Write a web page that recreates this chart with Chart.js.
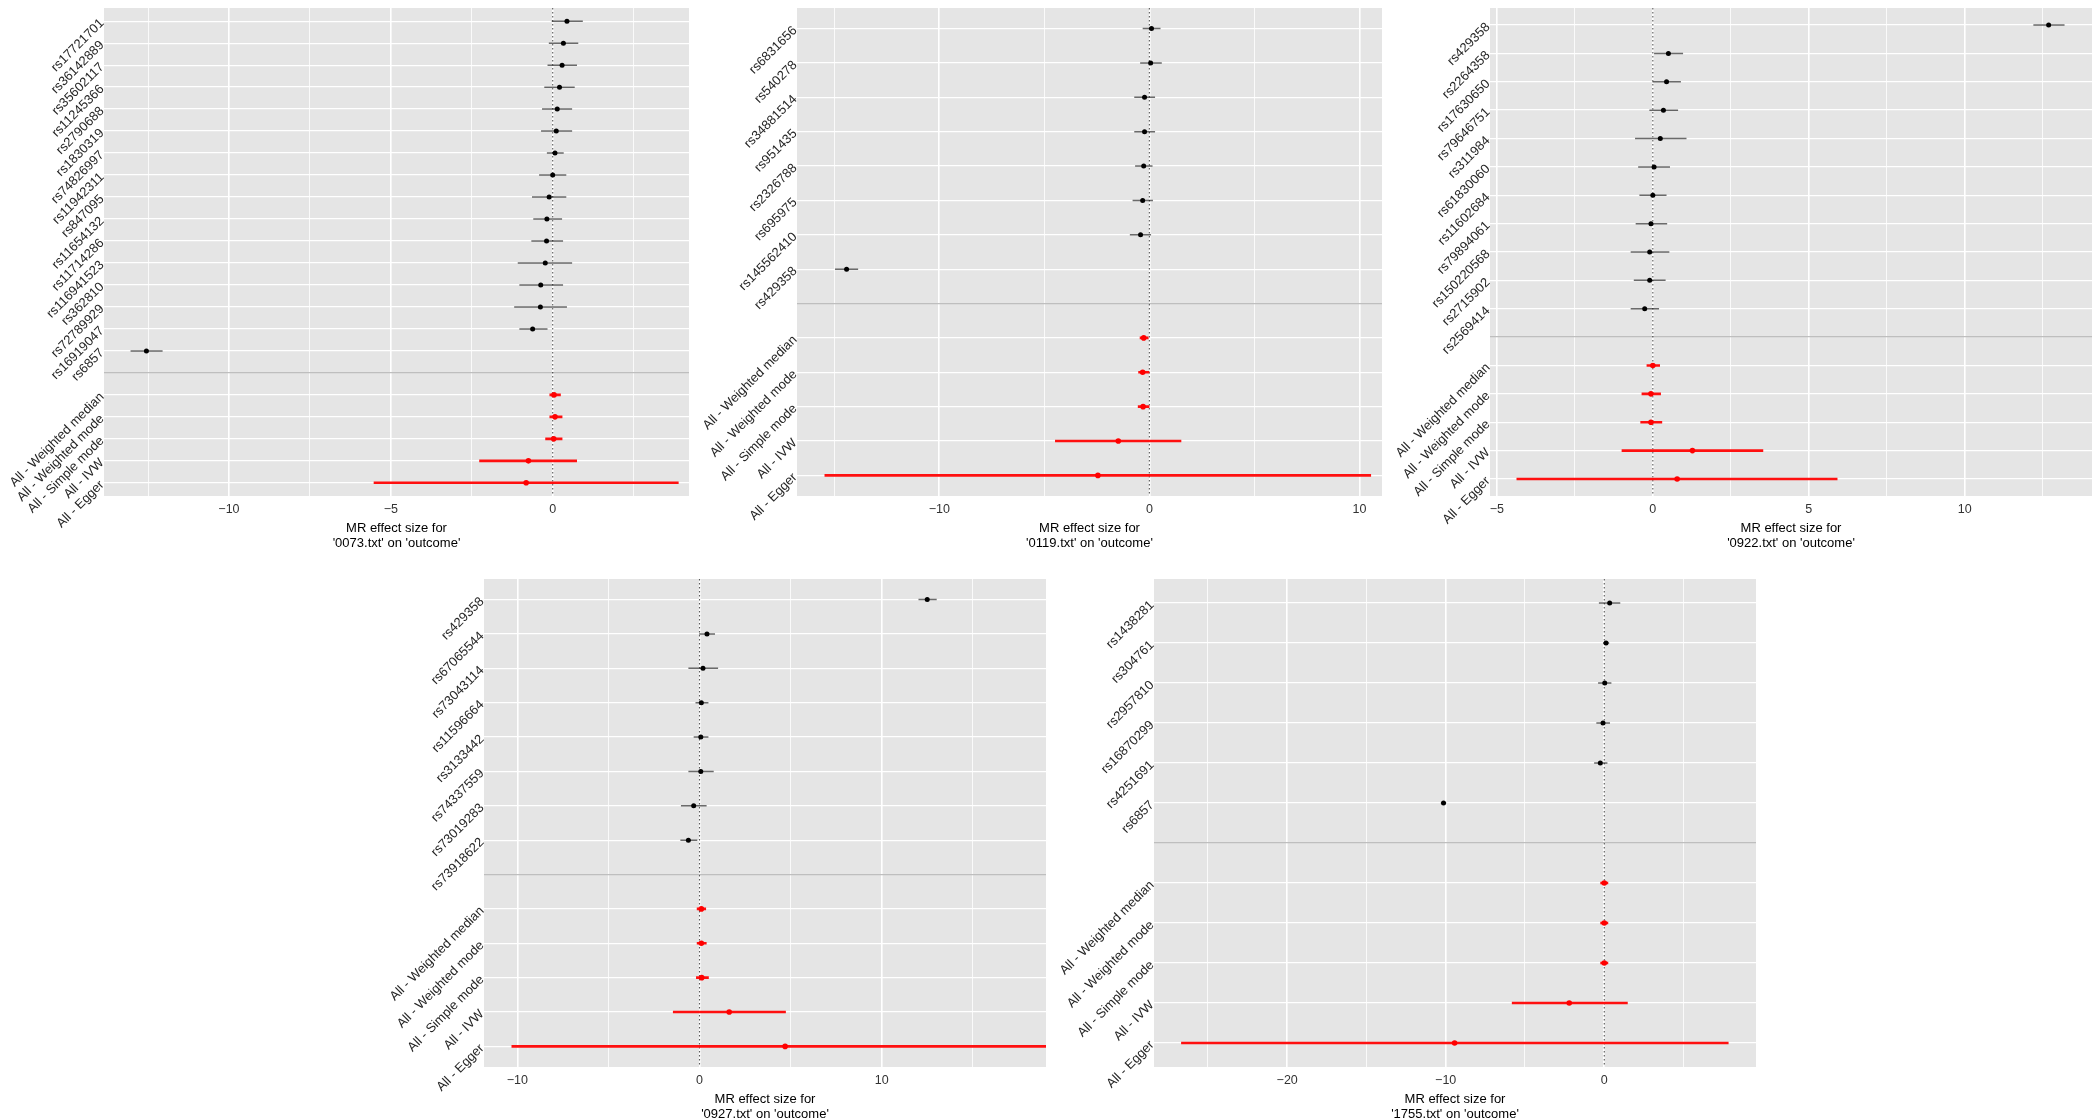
<!DOCTYPE html>
<html><head><meta charset="utf-8">
<script src="https://cdn.jsdelivr.net/npm/chart.js@4.4.1/dist/chart.umd.min.js"></script>
<style>
html,body{margin:0;padding:0;background:#fff;width:2100px;height:1120px;overflow:hidden;position:relative}
canvas{position:absolute}
</style></head><body>
<script>
// ---------------- data ----------------
const outcomeName = "outcome";
const methodLabels = ["All - Weighted median", "All - Weighted mode", "All - Simple mode", "All - IVW", "All - Egger"];

// Panel 1: '0073.txt'
const p1Exposure = "0073.txt";
const p1Snps = ["rs17721701","rs36142889","rs35602117","rs11245366","rs2790688","rs1830319","rs74826997","rs11942311","rs847095","rs11654132","rs11714286","rs116941523","rs362810","rs72789929","rs16919047","rs6857"];
const p1Beta = [0.44,0.33,0.29,0.21,0.14,0.11,0.07,0.00,-0.11,-0.18,-0.19,-0.23,-0.37,-0.38,-0.62,-12.55];
const p1Lo   = [-0.03,-0.12,-0.16,-0.26,-0.33,-0.36,-0.18,-0.42,-0.64,-0.60,-0.66,-1.08,-1.03,-1.19,-1.03,-13.04];
const p1Hi   = [0.93,0.79,0.75,0.68,0.60,0.60,0.34,0.42,0.42,0.29,0.32,0.60,0.32,0.44,-0.16,-12.05];
const p1MethodBeta = [0.04,0.07,0.03,-0.75,-0.82];
const p1MethodLo   = [-0.10,-0.10,-0.23,-2.27,-5.53];
const p1MethodHi   = [0.25,0.30,0.30,0.75,3.89];
const p1XLimits = [-13.86, 4.21];
const p1MajorTicks = [-10,-5,0];
const p1TickLabels = ["\u221210","\u22125","0"];
const p1MinorTicks = [-12.5,-7.5,-2.5,2.5];

// Panel 2: '0119.txt'
const p2Exposure = "0119.txt";
const p2Snps = ["rs6831656","rs540278","rs34881514","rs951435","rs2326788","rs695975","rs145562410","rs429358"];
const p2Beta = [0.10,0.06,-0.23,-0.23,-0.27,-0.32,-0.42,-14.41];
const p2Lo   = [-0.32,-0.44,-0.72,-0.72,-0.68,-0.80,-0.93,-14.96];
const p2Hi   = [0.53,0.59,0.27,0.27,0.15,0.17,0.08,-13.86];
const p2MethodBeta = [-0.27,-0.32,-0.30,-1.48,-2.45];
const p2MethodLo   = [-0.46,-0.53,-0.55,-4.49,-15.46];
const p2MethodHi   = [-0.04,0.00,0.00,1.52,10.55];
const p2XLimits = [-16.77, 11.07];
const p2MajorTicks = [-10,0,10];
const p2TickLabels = ["\u221210","0","10"];
const p2MinorTicks = [-15,-5,5];

// Panel 3: '0922.txt'
const p3Exposure = "0922.txt";
const p3Snps = ["rs429358","rs2264358","rs17630650","rs79646751","rs311984","rs61830060","rs11602684","rs79894061","rs150220568","rs2715902","rs2569414"];
const p3Beta = [12.69,0.50,0.44,0.34,0.24,0.04,0.00,-0.06,-0.10,-0.10,-0.26];
const p3Lo   = [12.20,0.04,-0.01,-0.11,-0.57,-0.47,-0.43,-0.55,-0.71,-0.61,-0.71];
const p3Hi   = [13.20,0.97,0.90,0.81,1.08,0.55,0.44,0.46,0.53,0.41,0.20];
const p3MethodBeta = [0.00,-0.06,-0.06,1.27,0.78];
const p3MethodLo   = [-0.20,-0.36,-0.40,-1.00,-4.37];
const p3MethodHi   = [0.23,0.26,0.30,3.54,5.92];
const p3XLimits = [-5.22, 14.08];
const p3MajorTicks = [-5,0,5,10];
const p3TickLabels = ["\u22125","0","5","10"];
const p3MinorTicks = [-2.5,2.5,7.5,12.5];

// Panel 4: '0927.txt'
const p4Exposure = "0927.txt";
const p4Snps = ["rs429358","rs67065544","rs73043114","rs11596664","rs3133442","rs74337559","rs73019283","rs73918622"];
const p4Beta = [12.50,0.41,0.19,0.10,0.07,0.07,-0.32,-0.61];
const p4Lo   = [12.02,-0.02,-0.61,-0.22,-0.32,-0.61,-1.02,-1.05];
const p4Hi   = [13.02,0.85,1.02,0.49,0.49,0.78,0.39,-0.12];
const p4MethodBeta = [0.10,0.10,0.12,1.63,4.70];
const p4MethodLo   = [-0.15,-0.15,-0.19,-1.46,-10.32];
const p4MethodHi   = [0.36,0.39,0.51,4.74,19.70];
const p4XLimits = [-11.83, 19.02];
const p4MajorTicks = [-10,0,10];
const p4TickLabels = ["\u221210","0","10"];
const p4MinorTicks = [-5,5,15];

// Panel 5: '1755.txt'
const p5Exposure = "1755.txt";
const p5Snps = ["rs1438281","rs304761","rs2957810","rs16870299","rs4251691","rs6857"];
const p5Beta = [0.34,0.11,0.03,-0.08,-0.25,-10.14];
const p5Lo   = [-0.34,-0.08,-0.39,-0.50,-0.64,-10.31];
const p5Hi   = [1.01,0.31,0.45,0.36,0.20,-9.97];
const p5MethodBeta = [0.00,0.00,0.00,-2.21,-9.44];
const p5MethodLo   = [-0.25,-0.25,-0.25,-5.83,-26.69];
const p5MethodHi   = [0.25,0.25,0.25,1.48,7.84];
const p5XLimits = [-28.4, 9.57];
const p5MajorTicks = [-20,-10,0];
const p5TickLabels = ["\u221220","\u221210","0"];
const p5MinorTicks = [-25,-15,-5,5];

// ---------------- layout / rendering ----------------
const AXIS_W = 104, XAXIS_H = 58;
const FONT = "'Liberation Sans', Arial, Helvetica, sans-serif";
Chart.defaults.font.family = FONT;

const panels = [
  {exposure:p1Exposure, snps:p1Snps, beta:p1Beta, lo:p1Lo, hi:p1Hi, mBeta:p1MethodBeta, mLo:p1MethodLo, mHi:p1MethodHi, xlim:p1XLimits, major:p1MajorTicks, labels:p1TickLabels, minor:p1MinorTicks, box:{l:104, r:693, t:4, b:496}},
  {exposure:p2Exposure, snps:p2Snps, beta:p2Beta, lo:p2Lo, hi:p2Hi, mBeta:p2MethodBeta, mLo:p2MethodLo, mHi:p2MethodHi, xlim:p2XLimits, major:p2MajorTicks, labels:p2TickLabels, minor:p2MinorTicks, box:{l:797, r:1386, t:4, b:496}},
  {exposure:p3Exposure, snps:p3Snps, beta:p3Beta, lo:p3Lo, hi:p3Hi, mBeta:p3MethodBeta, mLo:p3MethodLo, mHi:p3MethodHi, xlim:p3XLimits, major:p3MajorTicks, labels:p3TickLabels, minor:p3MinorTicks, box:{l:1490, r:2096, t:4, b:496}},
  {exposure:p4Exposure, snps:p4Snps, beta:p4Beta, lo:p4Lo, hi:p4Hi, mBeta:p4MethodBeta, mLo:p4MethodLo, mHi:p4MethodHi, xlim:p4XLimits, major:p4MajorTicks, labels:p4TickLabels, minor:p4MinorTicks, box:{l:484, r:1050, t:575, b:1067}},
  {exposure:p5Exposure, snps:p5Snps, beta:p5Beta, lo:p5Lo, hi:p5Hi, mBeta:p5MethodBeta, mLo:p5MethodLo, mHi:p5MethodHi, xlim:p5XLimits, major:p5MajorTicks, labels:p5TickLabels, minor:p5MinorTicks, box:{l:1154, r:1760, t:575, b:1067}}
];

const bgPlugin = {
  id: 'panelBg',
  beforeDraw(chart) {
    const {ctx, chartArea: a} = chart;
    ctx.save();
    ctx.fillStyle = '#e5e5e5';
    ctx.fillRect(a.left, a.top, a.right - a.left, a.bottom - a.top);
    ctx.restore();
  }
};

panels.forEach((p) => {
  const cv = document.createElement('canvas');
  const w = p.box.r - p.box.l + AXIS_W;
  const h = p.box.b - p.box.t + XAXIS_H;
  cv.width = w; cv.height = h;
  cv.style.left = (p.box.l - AXIS_W) + 'px';
  cv.style.top = p.box.t + 'px';
  cv.style.width = w + 'px';
  cv.style.height = h + 'px';
  document.body.appendChild(cv);

  const nS = p.snps.length;
  const rowLabels = p.snps.concat([''], methodLabels);
  const N = rowLabels.length;
  const yMin = -0.6, yMax = N - 1 + 0.6;

  const snpPts = p.snps.map((s, i) => ({x: p.beta[i], y: i}));
  const mPts = methodLabels.map((s, j) => ({x: p.mBeta[j], y: nS + 1 + j}));
  const snpCI = [];
  p.snps.forEach((s, i) => { snpCI.push({x: p.lo[i], y: i}, {x: p.hi[i], y: i}, {x: null, y: null}); });
  const mCI = [];
  methodLabels.forEach((s, j) => { mCI.push({x: p.mLo[j], y: nS + 1 + j}, {x: p.mHi[j], y: nS + 1 + j}, {x: null, y: null}); });
  const zeroLine = [{x: 0, y: yMin}, {x: 0, y: yMax}];
  const allX = p.major.concat(p.minor).sort((a, b) => a - b);

  new Chart(cv, {
    type: 'scatter',
    data: {
      datasets: [
        {data: snpPts, backgroundColor: '#000', borderWidth: 0, pointRadius: 2.5, order: 0},
        {data: mPts, backgroundColor: '#ff0000', borderWidth: 0, pointRadius: 2.8, order: 1},
        {type: 'line', data: snpCI, borderColor: 'rgba(0,0,0,0.58)', borderWidth: 1.5, pointRadius: 0, spanGaps: false, fill: false, tension: 0, borderCapStyle: 'butt', order: 2},
        {type: 'line', data: mCI, borderColor: '#ff1010', borderWidth: 2.6, pointRadius: 0, spanGaps: false, fill: false, tension: 0, borderCapStyle: 'butt', order: 3},
        {type: 'line', data: zeroLine, borderColor: 'rgba(0,0,0,0.65)', borderWidth: 1.1, borderDash: [1.6, 2.4], pointRadius: 0, fill: false, order: 4}
      ]
    },
    options: {
      responsive: false,
      animation: false,
      events: [],
      layout: {padding: 0},
      plugins: {legend: {display: false}, tooltip: {enabled: false}},
      scales: {
        x: {
          type: 'linear', position: 'bottom', min: p.xlim[0], max: p.xlim[1],
          afterBuildTicks: s => { s.ticks = allX.map(v => ({value: v})); },
          afterFit: s => { s.height = XAXIS_H; s.paddingLeft = 0; s.paddingRight = 0; },
          ticks: {
            autoSkip: false, maxRotation: 0, minRotation: 0, padding: 6, color: '#333333',
            font: {size: 12.5},
            callback: (v) => { const i = p.major.indexOf(v); return i >= 0 ? p.labels[i] : ''; }
          },
          grid: {
            color: '#ffffff',
            lineWidth: c => (c.tick && p.minor.includes(c.tick.value)) ? 0.8 : 1.6,
            drawTicks: false
          },
          border: {display: false},
          title: {
            display: true,
            text: ['MR effect size for', "'" + p.exposure + "' on '" + outcomeName + "'"],
            color: '#000',
            font: {size: 13, lineHeight: 1.15},
            padding: {top: 0, bottom: 3.2}
          }
        },
        y: {
          type: 'linear', position: 'left', reverse: true, min: yMin, max: yMax,
          afterBuildTicks: s => { s.ticks = rowLabels.map((l, i) => ({value: i})); },
          afterFit: s => { s.width = AXIS_W; s.paddingTop = 0; s.paddingBottom = 0; },
          ticks: {
            autoSkip: false, minRotation: 45, maxRotation: 90, padding: 2, color: '#262626',
            font: {size: 13},
            callback: (v) => (rowLabels[v] !== undefined ? rowLabels[v] : '')
          },
          grid: {
            color: c => (c.tick && c.tick.value === nS) ? '#bebebe' : '#ffffff',
            lineWidth: 1.3,
            drawTicks: false
          },
          border: {display: false}
        }
      }
    },
    plugins: [bgPlugin]
  });
});
</script>
</body></html>
